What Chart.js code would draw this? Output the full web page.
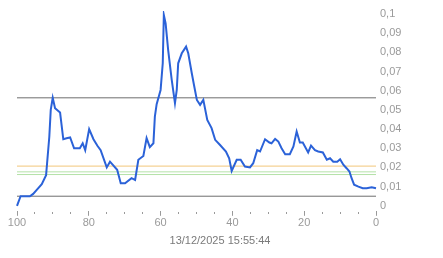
<!DOCTYPE html>
<html lang="en">
<head>
    <title>Chart</title>
    <script src="https://cdn.jsdelivr.net/npm/chart.js"></script>
    <style>
        body { margin: 0; background: #fff; }
        .chart-container { position: relative; width: 443px; height: 258px; }
    </style>
</head>
<body>
    <div class="chart-container">
        <canvas id="mainChart"></canvas>
    </div>

    <script>
        const agoX = [100, 99.0, 96.4, 95.5, 94.5, 93.1, 91.9, 91.0, 90.6, 90.05,
            89.4, 88.0, 87.1, 86.2, 85.2, 84.1, 82.5, 81.7, 81.0, 79.9,
            78.7, 77.6, 76.7, 75.0, 74.1, 72.1, 71.1, 69.9, 68.1, 67.1,
            66.2, 64.8, 63.9, 63.0, 62.0, 61.6, 61.1, 60.0, 59.4, 59.1,
            58.6, 57.9, 56.9, 56.0, 55.5, 55.1, 54.1, 52.9, 52.3, 51.3,
            50.7, 49.9, 49.0, 48.1, 47.0, 45.8, 44.8, 43.5, 41.8, 40.9,
            40.2, 38.8, 37.7, 36.5, 35.1, 34.2, 33.1, 32.3, 30.9, 29.7,
            29.1, 28.1, 27.2, 26.3, 25.3, 24.0, 23.0, 22.1, 21.2, 20.4,
            18.9, 18.1, 17.0, 16.1, 14.8, 13.7, 12.8, 11.9, 10.8, 10.0,
            9.1, 8.2, 7.4, 6.8, 6.1, 4.9, 3.7, 2.6, 1.2, 0];
        const values = [0, 0.005, 0.005, 0.0062, 0.0083, 0.0113, 0.016, 0.036, 0.050, 0.0563,
            0.0509, 0.0486, 0.0347, 0.0352, 0.0356, 0.030, 0.030, 0.0326, 0.029, 0.040,
            0.0347, 0.0313, 0.029, 0.020, 0.023, 0.0188, 0.0118, 0.0118, 0.0144, 0.0135,
            0.024, 0.026, 0.0353, 0.0306, 0.0326, 0.0465, 0.0530, 0.0604, 0.0743, 0.0995,
            0.0951, 0.0813, 0.0656, 0.0535, 0.0604, 0.0743, 0.0795, 0.083, 0.0795, 0.069,
            0.063, 0.0552, 0.0526, 0.0552, 0.0448, 0.0405, 0.0344, 0.0318, 0.0283, 0.0248,
            0.0182, 0.024, 0.024, 0.0205, 0.020, 0.0222, 0.029, 0.0283, 0.0347, 0.033,
            0.0326, 0.0349, 0.0335, 0.030, 0.0269, 0.0269, 0.0309, 0.0387, 0.033, 0.033,
            0.0278, 0.0314, 0.029, 0.0283, 0.0278, 0.024, 0.0248, 0.023, 0.023, 0.0243,
            0.0214, 0.0196, 0.0179, 0.0144, 0.011, 0.010, 0.0092, 0.0092, 0.0097, 0.0092];

        // horizontal limit lines
        const limitValues = [0.0563, 0.005, 0.0207, 0.0177, 0.0163];
        const limitColors = ['#6e6e6e', '#6e6e6e', '#f2c77a', '#b4e2a8', '#b4e2a8'];

        const xMin = 0, xMax = 100, xStep = 5, xLabelStep = 20;
        const yMin = 0, yMax = 0.1, yStep = 0.01;
        const timeLabel = '13/12/2025 15:55:44';

        const datasets = [{
            data: agoX.map((x, i) => ({ x: x, y: values[i] })),
            borderColor: '#2b62d8',
            borderWidth: 2,
            pointRadius: 0,
            tension: 0,
            clip: 3
        }];
        limitValues.forEach((v, i) => {
            datasets.push({
                data: [{ x: xMax, y: v }, { x: xMin, y: v }],
                borderColor: limitColors[i],
                borderWidth: 1,
                pointRadius: 0
            });
        });

        const ctx = document.getElementById('mainChart').getContext('2d');
        new Chart(ctx, {
            type: 'line',
            data: { datasets: datasets },
            options: {
                responsive: true,
                maintainAspectRatio: false,
                animation: false,
                layout: { padding: { left: 17, top: 14, right: 20, bottom: 10 } },
                plugins: {
                    legend: { display: false },
                    tooltip: { enabled: false },
                    title: {
                        display: true,
                        position: 'bottom',
                        text: timeLabel,
                        color: '#7a7a7a',
                        font: { family: 'Liberation Sans', size: 11, weight: 'normal' },
                        padding: { top: 0, bottom: 0 }
                    }
                },
                scales: {
                    x: {
                        type: 'linear',
                        reverse: true,
                        min: xMin,
                        max: xMax,
                        afterFit: s => { s.height = 29; },
                        border: { display: false },
                        grid: {
                            drawOnChartArea: false,
                            tickLength: 10,
                            tickColor: '#9a9a9a',
                            tickBorderDash: c => (c.tick && c.tick.value % xLabelStep === 0) ? [0.01, 5, 5, 50] : [0.01, 6, 2, 50]
                        },
                        ticks: {
                            stepSize: xStep,
                            autoSkip: false,
                            maxRotation: 0,
                            padding: 1,
                            color: '#9a9a9a',
                            font: { family: 'Liberation Sans', size: 11 },
                            callback: v => (v % xLabelStep === 0 ? String(v) : '')
                        }
                    },
                    y: {
                        position: 'right',
                        min: yMin,
                        max: yMax,
                        afterFit: s => { s.width = 47; },
                        border: { display: false },
                        grid: { display: false, drawTicks: false },
                        ticks: {
                            stepSize: yStep,
                            padding: 4,
                            color: '#9a9a9a',
                            font: { family: 'Liberation Sans', size: 11 },
                            callback: v => String(Number(v.toFixed(2))).replace('.', ',')
                        }
                    }
                }
            }
        });
    </script>
</body>
</html>
